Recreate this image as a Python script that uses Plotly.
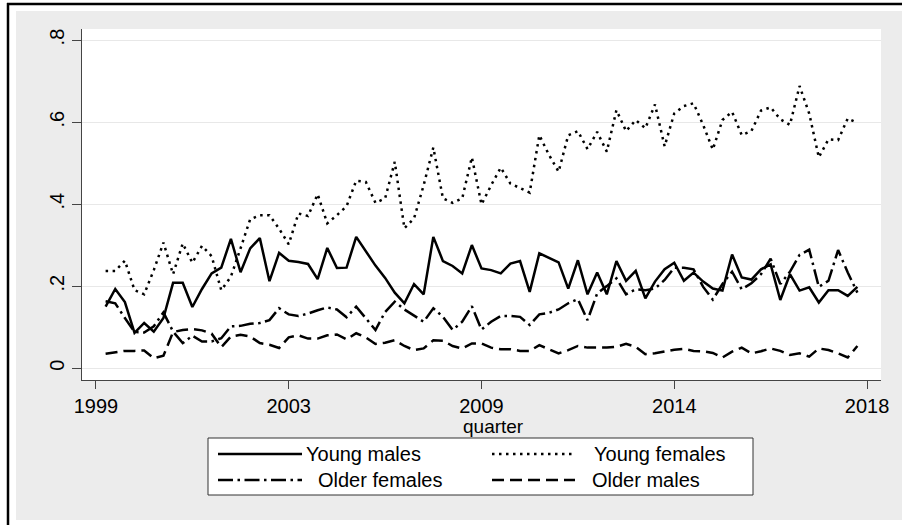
import plotly.graph_objects as go

# ---------------- data ----------------
quarter_index = list(range(1, 80))  # quarterly observations

young_males = [0.150, 0.193, 0.161, 0.086, 0.110, 0.089, 0.122, 0.208, 0.208, 0.149,
               0.193, 0.231, 0.245, 0.315, 0.234, 0.292, 0.317, 0.212, 0.281, 0.262,
               0.259, 0.254, 0.217, 0.293, 0.244, 0.245, 0.320, 0.284, 0.250, 0.220,
               0.184, 0.158, 0.205, 0.180, 0.320, 0.261, 0.249, 0.231, 0.300, 0.243,
               0.239, 0.231, 0.255, 0.261, 0.186, 0.280, 0.269, 0.258, 0.194, 0.263,
               0.180, 0.233, 0.180, 0.261, 0.213, 0.237, 0.170, 0.211, 0.241, 0.257,
               0.213, 0.233, 0.211, 0.194, 0.189, 0.277, 0.221, 0.216, 0.241, 0.253,
               0.166, 0.229, 0.189, 0.197, 0.160, 0.190, 0.190, 0.176, 0.198]

young_females = [0.237, 0.237, 0.262, 0.190, 0.180, 0.239, 0.306, 0.229, 0.304, 0.257,
                 0.298, 0.273, 0.190, 0.223, 0.292, 0.363, 0.373, 0.373, 0.340, 0.302,
                 0.377, 0.371, 0.424, 0.353, 0.373, 0.395, 0.457, 0.454, 0.403, 0.414,
                 0.503, 0.341, 0.365, 0.446, 0.538, 0.414, 0.403, 0.414, 0.514, 0.399,
                 0.446, 0.489, 0.450, 0.438, 0.428, 0.568, 0.520, 0.479, 0.568, 0.578,
                 0.534, 0.576, 0.528, 0.629, 0.578, 0.605, 0.585, 0.643, 0.541, 0.621,
                 0.639, 0.646, 0.593, 0.533, 0.605, 0.625, 0.568, 0.578, 0.628, 0.636,
                 0.607, 0.593, 0.688, 0.621, 0.514, 0.558, 0.556, 0.609, 0.598]

older_females = [0.163, 0.158, 0.122, 0.088, 0.087, 0.102, 0.136, 0.089, 0.061, 0.079,
                 0.065, 0.065, 0.073, 0.102, 0.103, 0.108, 0.110, 0.117, 0.146, 0.131,
                 0.127, 0.133, 0.141, 0.148, 0.143, 0.124, 0.150, 0.121, 0.093, 0.137,
                 0.162, 0.143, 0.127, 0.113, 0.146, 0.125, 0.093, 0.113, 0.151, 0.094,
                 0.113, 0.127, 0.127, 0.125, 0.105, 0.131, 0.135, 0.143, 0.158, 0.168,
                 0.117, 0.182, 0.200, 0.219, 0.180, 0.192, 0.190, 0.194, 0.215, 0.245,
                 0.245, 0.241, 0.198, 0.167, 0.205, 0.235, 0.192, 0.207, 0.229, 0.267,
                 0.205, 0.235, 0.276, 0.289, 0.198, 0.213, 0.288, 0.233, 0.184]

older_males = [0.035, 0.038, 0.042, 0.042, 0.043, 0.024, 0.030, 0.088, 0.093, 0.095,
               0.092, 0.084, 0.051, 0.077, 0.081, 0.077, 0.061, 0.057, 0.049, 0.075,
               0.080, 0.072, 0.072, 0.080, 0.082, 0.070, 0.085, 0.075, 0.059, 0.062,
               0.068, 0.054, 0.044, 0.048, 0.068, 0.067, 0.054, 0.048, 0.060, 0.060,
               0.050, 0.046, 0.046, 0.042, 0.042, 0.056, 0.046, 0.036, 0.044, 0.054,
               0.050, 0.050, 0.050, 0.052, 0.059, 0.052, 0.034, 0.036, 0.040, 0.045,
               0.047, 0.042, 0.041, 0.037, 0.026, 0.040, 0.050, 0.036, 0.041, 0.048,
               0.042, 0.032, 0.036, 0.028, 0.048, 0.044, 0.036, 0.026, 0.054]

x_tickvals = [0, 20, 40, 60, 80]
x_ticktext = ["1999", "2003", "2009", "2014", "2018"]
y_tickvals = [0, 0.2, 0.4, 0.6, 0.8]
y_ticktext = ["0", ".2", ".4", ".6", ".8"]

series_names = ["Young males", "Young females", "Older females", "Older males"]

# ---------------- styles ----------------
W, H = 902, 525
L, R, T, B = 82, 881, 29, 380  # plot area in pixels
FONT = "Liberation Sans, Arial, sans-serif"
LW = 2.5
dashes = {
    "Young males": "solid",
    "Young females": "2.5px,4.5px",
    "Older females": "15px,4.5px,2.5px,4.5px",
    "Older males": "12px,6px",
}


def px_x(p):
    return (p - L) / (R - L)


def px_y(p):
    return (B - p) / (B - T)


fig = go.Figure()
series = {
    "Young males": young_males,
    "Young females": young_females,
    "Older females": older_females,
    "Older males": older_males,
}
for name in series_names:
    fig.add_trace(go.Scatter(
        x=quarter_index, y=series[name], mode="lines", name=name,
        line=dict(color="black", width=LW, dash=dashes[name]),
        showlegend=False, hoverinfo="x+y+name",
    ))

shapes = []
# gray graph region
shapes.append(dict(type="rect", xref="paper", yref="paper", layer="below",
                   x0=px_x(16), x1=px_x(905), y0=px_y(520), y1=px_y(11),
                   fillcolor="#ECECEC", line=dict(width=0)))
# white plot region
shapes.append(dict(type="rect", xref="paper", yref="paper", layer="below",
                   x0=0, x1=1, y0=0, y1=1, fillcolor="white", line=dict(width=0)))
# outer black frame (left and top)
shapes.append(dict(type="line", xref="paper", yref="paper",
                   x0=px_x(8), x1=px_x(8), y0=px_y(3), y1=px_y(530),
                   line=dict(color="black", width=2.5)))
shapes.append(dict(type="line", xref="paper", yref="paper",
                   x0=px_x(7), x1=px_x(905), y0=px_y(4), y1=px_y(4),
                   line=dict(color="black", width=2.5)))
# legend box
shapes.append(dict(type="rect", xref="paper", yref="paper",
                   x0=px_x(208), x1=px_x(753), y0=px_y(495), y1=px_y(438),
                   fillcolor="white", line=dict(color="#333333", width=1)))

legend_layout = [
    ("Young males", 218, 302, 454, 304),
    ("Young females", 492, 575, 454, 592),
    ("Older females", 218, 302, 480, 316),
    ("Older males", 492, 575, 480, 590),
]
annotations = []
for name, lx0, lx1, ly, tx in legend_layout:
    shapes.append(dict(type="line", xref="paper", yref="paper",
                       x0=px_x(lx0), x1=px_x(lx1), y0=px_y(ly), y1=px_y(ly),
                       line=dict(color="black", width=LW, dash=dashes[name])))
    annotations.append(dict(xref="paper", yref="paper", x=px_x(tx), y=px_y(ly),
                            text=name, showarrow=False, xanchor="left", yanchor="middle",
                            font=dict(family=FONT, size=20, color="black")))

annotations.append(dict(xref="paper", yref="paper", x=px_x(493), y=px_y(426),
                        text="quarter", showarrow=False, xanchor="center", yanchor="middle",
                        font=dict(family=FONT, size=19, color="black")))

axis_color = "#444444"
fig.update_layout(
    width=W, height=H,
    margin=dict(l=L, r=W - R, t=T, b=H - B, pad=0),
    paper_bgcolor="white", plot_bgcolor="white",
    font=dict(family=FONT, size=20, color="black"),
    showlegend=False,
    shapes=shapes, annotations=annotations,
    xaxis=dict(range=[-1.45, 81.45], tickvals=x_tickvals, ticktext=x_ticktext,
               showgrid=False, zeroline=False, showline=True, linecolor=axis_color,
               linewidth=1.2, ticks="outside", ticklen=8, tickwidth=1.2,
               tickcolor=axis_color, tickfont=dict(family=FONT, size=20, color="black")),
    yaxis=dict(range=[-0.029, 0.827], tickvals=y_tickvals, ticktext=y_ticktext,
               tickangle=-90, showgrid=True, gridcolor="#E8E8E8", gridwidth=1.2,
               zeroline=False, showline=True, linecolor=axis_color, linewidth=1.2,
               ticks="outside", ticklen=9, tickwidth=1.2, tickcolor=axis_color,
               tickfont=dict(family=FONT, size=20, color="black")),
)

fig.write_html("out.html", config={"displayModeBar": False},
               post_script="document.body.style.margin='0';")
